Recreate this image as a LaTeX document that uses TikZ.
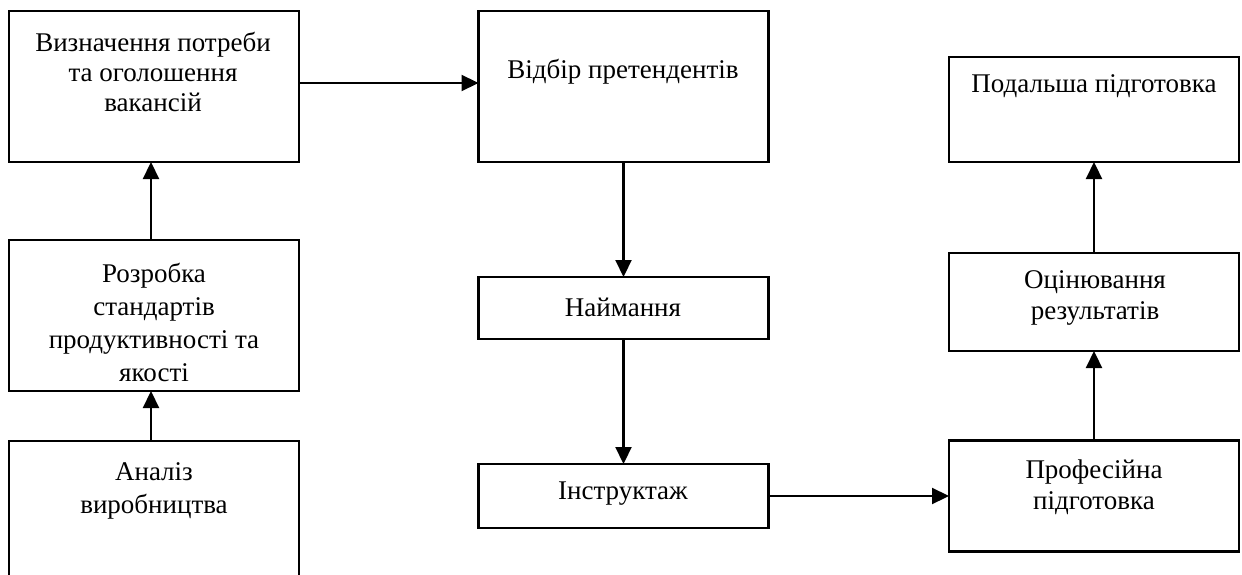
\documentclass[tikz,border=0pt]{standalone}
\usepackage{fontspec}
\setmainfont{Liberation Serif}
\usetikzlibrary{arrows.meta}
\begin{document}
\begin{tikzpicture}[x=1pt,y=-1pt,
  box/.style={draw=black,line width=2.2pt,minimum width=290pt,inner sep=0pt,outer sep=0pt},
  txt/.style={inner sep=0pt,align=center,font=\fontsize{27}{30}\selectfont},
  txto/.style={inner sep=0pt,align=center,font=\fontsize{27}{31}\selectfont},
  txtb/.style={inner sep=0pt,align=center,font=\fontsize{27}{33}\selectfont},
  arr/.style={line width=2.2pt,-{Triangle[length=17pt,width=16pt]}}]
\clip (0,0) rectangle (1242,575);
\fill[white] (0,0) rectangle (1242,575);
% boxes
\node[box,minimum height=151pt] (b1) at (154,86.5) {};
\node[box,minimum height=151pt] (b2) at (623.5,86.5) {};
\node[box,minimum height=105pt] (b3) at (1094,109.5) {};
\node[box,minimum height=151pt] (b4) at (154,315.5) {};
\node[box,minimum height=160pt] (b5) at (154,521) {};
\node[box,minimum height=62pt] (b6) at (623.5,308) {};
\node[box,minimum height=64pt] (b7) at (623.5,496) {};
\node[box,minimum height=98pt] (b8) at (1094,302) {};
\node[box,minimum height=111pt] (b9) at (1094,496) {};
% texts
\node[txt] (t1) at (153,72) {Визначення потреби\\та оголошення\\вакансій};
\node[txt] (t2) at (623,72) {Відбір претендентів};
\node[txt] (t3) at (1094,86) {Подальша підготовка};
\node[txtb] (t4) at (154,322) {Розробка\\стандартів\\продуктивності та\\якості};
\node[txtb] (t5) at (154,491) {Аналіз\\виробництва};
\node[txt] (t6) at (623,307) {Наймання};
\node[txt] (t7) at (623,494) {Інструктаж};
\node[txto] (t8) at (1095,298) {Оцінювання\\результатів};
\node[txto] (t9) at (1094,487) {Професійна\\підготовка};
% connectors
\draw[arr] ([yshift=3.5pt]b1.east) -- ([yshift=3.5pt]b2.west);
\draw[arr] ([xshift=-3pt]b4.north) -- ([xshift=-3pt]b1.south);
\draw[arr] ([xshift=-3pt]b5.north) -- ([xshift=-3pt]b4.south);
\draw[arr] (b2.south) -- (b6.north);
\draw[arr] (b6.south) -- (b7.north);
\draw[arr] (b7.east) -- (b9.west);
\draw[arr] (b9.north) -- (b8.south);
\draw[arr] (b8.north) -- (b3.south);
\end{tikzpicture}
\end{document}
